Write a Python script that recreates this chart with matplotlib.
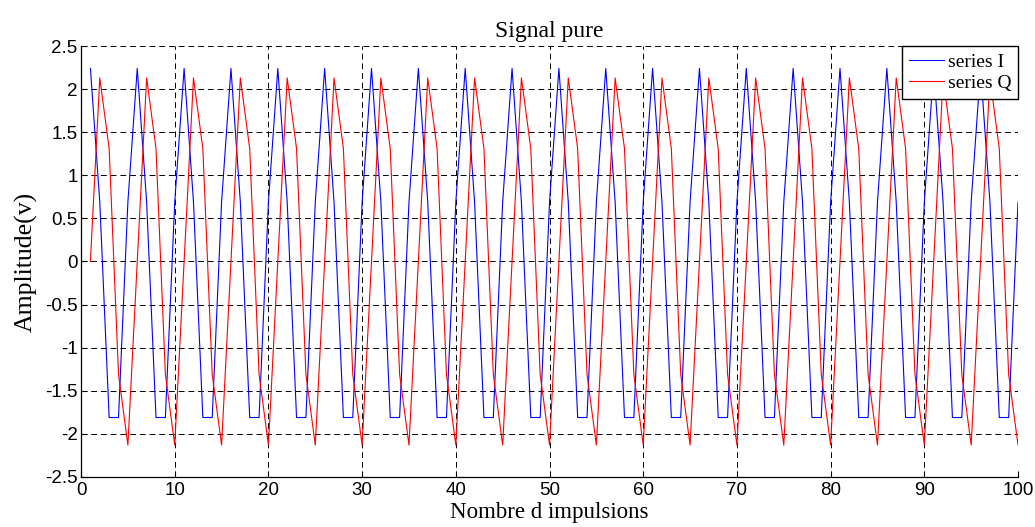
import matplotlib
matplotlib.use("Agg")
import matplotlib.pyplot as plt

# Pulse index and the sampled I/Q amplitudes (one cycle = 5 samples)
impulses = list(range(1, 101))
series_i = [2.24, 0.69, -1.81, -1.81, 0.69] * 20
series_q = [0.00, 2.13, 1.31, -1.31, -2.13] * 20

x_ticks = [0, 10, 20, 30, 40, 50, 60, 70, 80, 90, 100]
y_ticks = [-2.5, -2, -1.5, -1, -0.5, 0, 0.5, 1, 1.5, 2, 2.5]
y_tick_labels = ["-2.5", "-2", "-1.5", "-1", "-0.5", "0", "0.5", "1", "1.5", "2", "2.5"]

serif = ["Liberation Serif", "DejaVu Serif"]
sans = ["Liberation Sans", "DejaVu Sans"]

fig = plt.figure(figsize=(10.35, 5.27), dpi=100)
ax = fig.add_axes([0.0783, 0.0949, 0.9053, 0.8178])

ax.plot(impulses, series_i, color="#0000ff", lw=0.8, label="series I")
ax.plot(impulses, series_q, color="#ff0000", lw=0.8, label="series Q")

ax.set_xlim(0, 100)
ax.set_ylim(-2.5, 2.5)
ax.set_xticks(x_ticks)
ax.set_yticks(y_ticks)
ax.set_yticklabels(y_tick_labels)
for lab in ax.get_xticklabels() + ax.get_yticklabels():
    lab.set_family(sans)
    lab.set_fontsize(13.5)

ax.tick_params(direction="in", length=4, width=0.8, colors="black")
ax.tick_params(axis="x", pad=3.5)
ax.tick_params(axis="y", pad=2.5)
ax.grid(True, color="black", linestyle=(0, (6, 4)), lw=0.7)
ax.set_axisbelow(True)
for side in ("top", "right"):
    ax.spines[side].set_visible(False)
for side in ("left", "bottom"):
    ax.spines[side].set_linewidth(0.9)

ax.set_title("Signal pure", family=serif, fontsize=17, pad=6.5)
ax.set_xlabel("Nombre d impulsions", family=serif, fontsize=16.5, labelpad=2)
ax.set_ylabel("Amplitude(v)", family=serif, fontsize=18.5, labelpad=5)

leg = ax.legend(loc="upper right", prop={"family": serif, "size": 14},
                fancybox=False, framealpha=1, edgecolor="black",
                borderaxespad=0.0, handlelength=1.8, handletextpad=0.2,
                borderpad=0.36, labelspacing=0.2)
leg.get_frame().set_linewidth(1.0)

fig.savefig("out.png", dpi=100)
